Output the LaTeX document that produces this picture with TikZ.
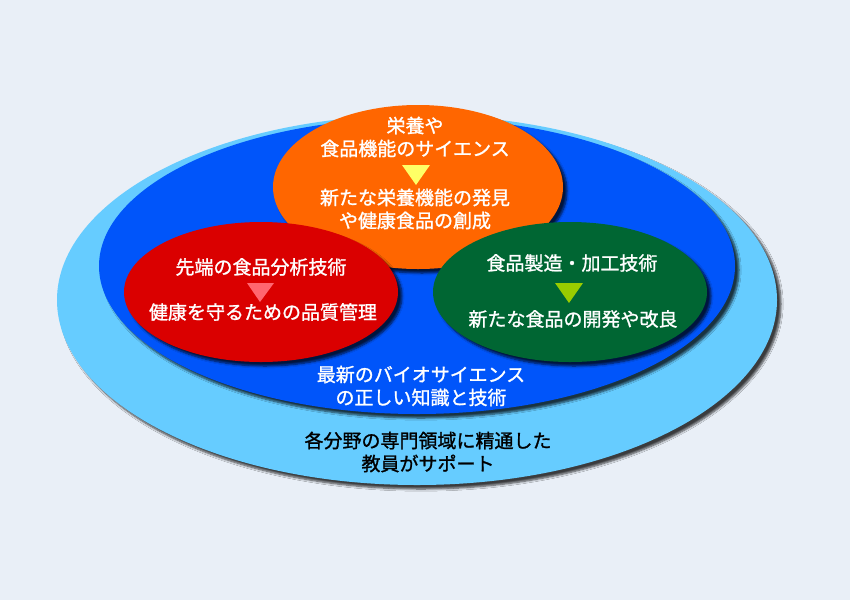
\documentclass[tikz,border=0pt]{standalone}
\usepackage{fontspec}
\setmainfont{Noto Sans CJK JP}
\newfontfamily\heavyjp{Noto Sans CJK JP}[FakeBold=1.2]
\usetikzlibrary{shapes.geometric,shadows.blur}
\definecolor{bgcol}{RGB}{233,239,247}
\definecolor{skycol}{RGB}{102,204,255}
\definecolor{bluecol}{RGB}{0,85,250}
\definecolor{orangecol}{RGB}{255,102,0}
\definecolor{redcol}{RGB}{218,0,0}
\definecolor{greencol}{RGB}{0,102,51}
\definecolor{yelcol}{RGB}{255,255,102}
\definecolor{pinkcol}{RGB}{255,102,112}
\definecolor{limecol}{RGB}{153,204,0}
\begin{document}
\begin{tikzpicture}[x=1pt,y=-1pt]
		\tikzstyle{field}=[ellipse,inner sep=0pt,draw=none,blur shadow={shadow xshift=4pt,shadow yshift=-4pt,shadow blur steps=6,shadow opacity=75}]
		\tikzstyle{label}=[align=center,text=white,font=\heavyjp\fontsize{19}{23}\selectfont]
		\useasboundingbox (0,0) rectangle (850,600);
		\fill[bgcol] (0,0) rectangle (850,600);
		\begin{scope}
			% nested fields
			\node [field,fill=skycol,minimum width=720pt,minimum height=370pt] (staff) at (417,300) {};
			\node [field,fill=bluecol,minimum width=636pt,minimum height=296pt] (bio) at (417,266) {};
			\node [field,fill=orangecol,minimum width=290pt,minimum height=164pt] (nutri) at (418,187) {};
			\node [field,fill=redcol,minimum width=274pt,minimum height=140pt] (anal) at (261,292) {};
			\node [field,fill=greencol,minimum width=274pt,minimum height=140pt] (proc) at (570,292) {};
			% texts
			\node [label] (nutri1) at (415,137) {栄養や\\食品機能のサイエンス};
			\node [label] (nutri2) at (415,209) {新たな栄養機能の発見\\や健康食品の創成};
			\node [label] (anal1) at (261,267) {先端の食品分析技術};
			\node [label] (anal2) at (263,312) {健康を守るための品質管理};
			\node [label] (proc1) at (572,263) {食品製造・加工技術};
			\node [label] (proc2) at (573,319) {新たな食品の開発や改良};
			\node [label] (bio1) at (421,386) {最新のバイオサイエンス\\の正しい知識と技術};
			\node [label,text=black] (staff1) at (428,452) {各分野の専門領域に精通した\\教員がサポート};
			% arrowheads
			\fill [yelcol] (402,165) -- (430,165) -- (416,185) -- cycle;
			\fill [pinkcol] (247,283) -- (274,283) -- (260,302) -- cycle;
			\fill [limecol] (555,283) -- (583,283) -- (569,303) -- cycle;
		\end{scope}
\end{tikzpicture}
\end{document}
